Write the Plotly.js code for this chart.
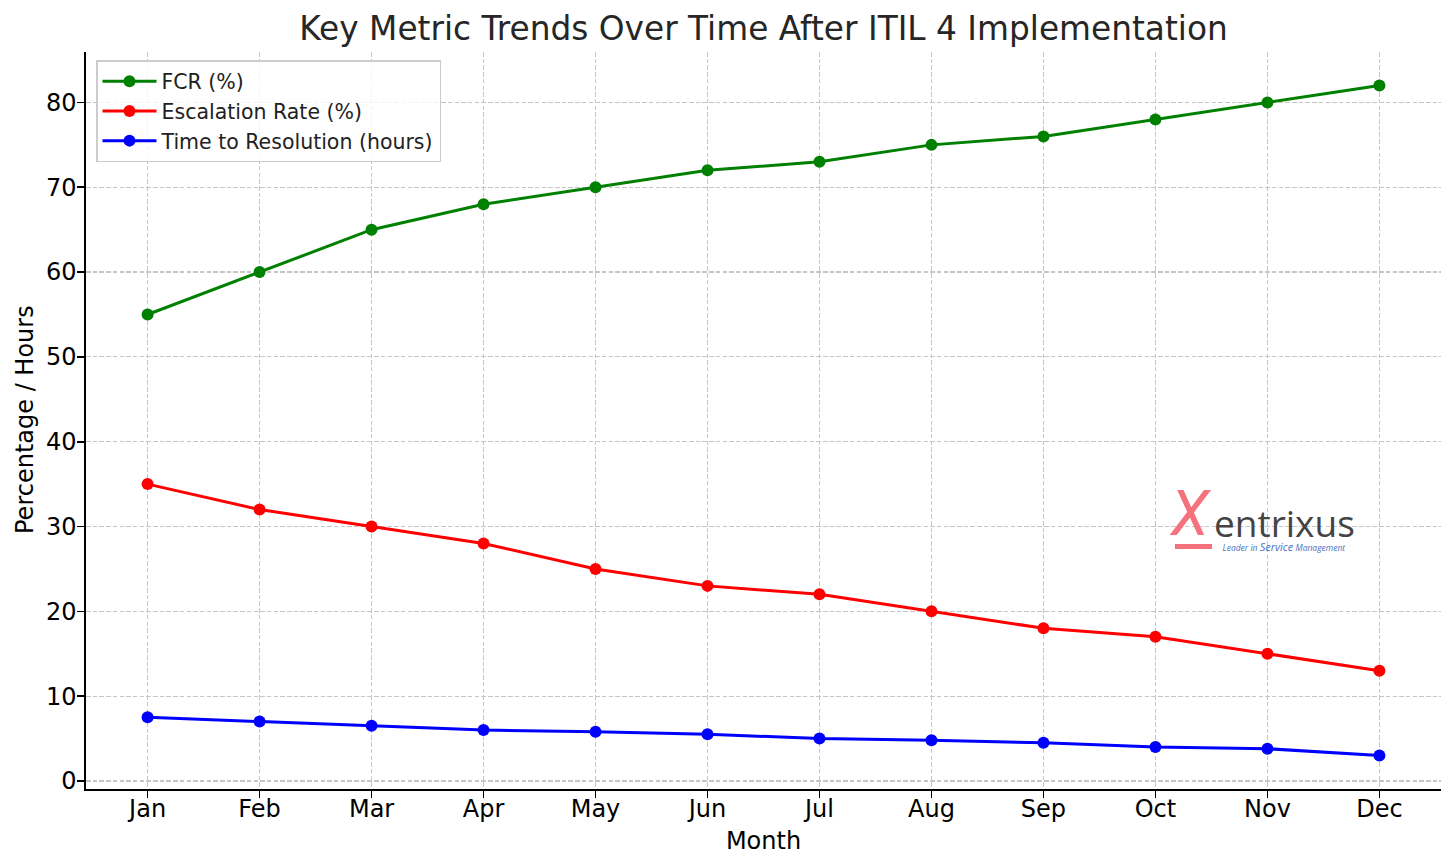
<!DOCTYPE html>
<html>
<head>
<meta charset="utf-8">
<script src="https://cdn.plot.ly/plotly-3.0.1.min.js"></script>
<style>html,body{margin:0;padding:0;background:#fff;}#chart{width:1456px;height:868px;}</style>
</head>
<body>
<div id="chart"></div>
<script>
const months = ["Jan","Feb","Mar","Apr","May","Jun","Jul","Aug","Sep","Oct","Nov","Dec"];
const fcr = [55,60,65,68,70,72,73,75,76,78,80,82];
const escalation = [35,32,30,28,25,23,22,20,18,17,15,13];
const resolution = [7.5,7,6.5,6,5.8,5.5,5,4.8,4.5,4,3.8,3];
const seriesNames = ["FCR (%)","Escalation Rate (%)","Time to Resolution (hours)"];
const yTicks = [0,10,20,30,40,50,60,70,80];

const font = "DejaVu Sans, sans-serif";
function tr(y, name, color){
  return {x: months, y: y, name: name, type: 'scatter', mode: 'lines+markers',
    line: {color: color, width: 3}, marker: {color: color, size: 12}};
}
const data = [
  tr(fcr, seriesNames[0], '#008000'),
  tr(escalation, seriesNames[1], '#ff0000'),
  tr(resolution, seriesNames[2], '#0000ff')
];
const px = v => (v-86)/1355;
const py = v => (789-v)/737;
const layout = {
  width: 1456, height: 868,
  margin: {l: 86, r: 15, t: 52, b: 79},
  paper_bgcolor: '#fff', plot_bgcolor: '#fff',
  font: {family: font, color: '#000'},
  title: {text: "Key Metric Trends Over Time After ITIL 4 Implementation",
    font: {size: 32.8, color: '#262626', family: font},
    x: 0.5, xref: 'paper', y: 1 - 29/868, yref: 'container', yanchor: 'middle'},
  xaxis: {type: 'category', range: [-0.55, 11.55],
    showline: true, linecolor: '#000', linewidth: 1.6, mirror: false,
    ticks: 'outside', ticklen: 7, tickwidth: 1.6, tickcolor: '#000',
    ticklabelstandoff: -9,
    tickfont: {size: 24, family: font, color: '#000'},
    showgrid: true, gridcolor: '#c6c6c6', gridwidth: 1.2, griddash: '4.5px,2.2px',
    zeroline: false,
    title: {text: "Month", font: {size: 24, family: font, color: '#000'}, standoff: 10}},
  yaxis: {range: [-0.95, 85.95], tickvals: yTicks,
    showline: true, linecolor: '#000', linewidth: 1.6,
    ticks: 'outside', ticklen: 7, tickwidth: 1.6, tickcolor: '#000',
    ticklabelstandoff: -4,
    tickfont: {size: 24, family: font, color: '#000'},
    showgrid: true, gridcolor: '#c6c6c6', gridwidth: 1.2, griddash: '4.5px,2.2px',
    zeroline: false},
  legend: {x: px(96), y: py(60), xanchor: 'left', yanchor: 'top',
    bgcolor: 'rgba(255,255,255,0.8)', bordercolor: '#cccccc', borderwidth: 1.5,
    font: {size: 20.5, family: font, color: '#222'}, tracegroupgap: 0, itemwidth: 54},
  showlegend: true,
  annotations: [
    {text: "Percentage / Hours", xref: 'paper', yref: 'paper', x: px(25), y: py(420),
     xanchor: 'center', yanchor: 'middle', textangle: -90, showarrow: false,
     font: {size: 24, family: font, color: '#000'}},
    {text: "<i>X</i>", xref: 'paper', yref: 'paper', x: px(1190), y: py(513),
     xanchor: 'center', yanchor: 'middle', showarrow: false,
     font: {size: 62, family: 'Roboto, sans-serif', color: '#f5727c'}},
    {text: "<span style='font-size:37px;color:#444'>entrixus</span><br>&nbsp;&nbsp;&nbsp;<i><span style='font-size:8.5px'>Leader in </span>Service<span style='font-size:8.5px'> Management</span></i>",
     xref: 'paper', yref: 'paper', x: px(1212), y: py(556), align: 'left',
     xanchor: 'left', yanchor: 'bottom', showarrow: false,
     font: {size: 11, family: 'Open Sans, sans-serif', color: '#4a72c4'}}
  ],
  shapes: [
    {type: 'rect', xref: 'paper', yref: 'paper', x0: px(1175), x1: px(1212),
     y0: py(549), y1: py(544), fillcolor: '#f5727c', line: {width: 0}}
  ]
};
Plotly.newPlot('chart', data, layout, {displayModeBar: false, staticPlot: true});
</script>
</body>
</html>
